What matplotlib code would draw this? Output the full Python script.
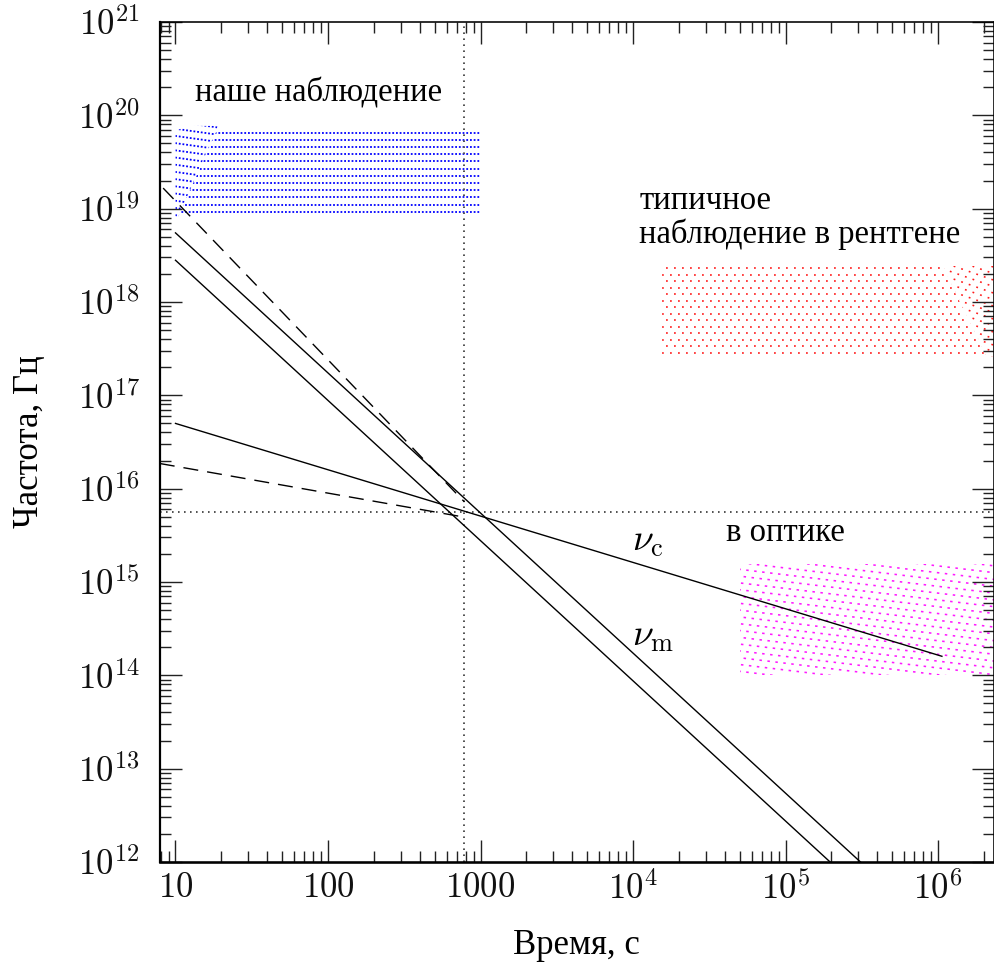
import numpy as np
import matplotlib
matplotlib.use("Agg")
import matplotlib.pyplot as plt
from matplotlib.patches import Polygon
from matplotlib.ticker import FixedLocator, FuncFormatter, LogLocator, NullFormatter

plt.rcParams["mathtext.fontset"] = "cm"
plt.rcParams["font.family"] = ["Liberation Serif", "DejaVu Serif"]
plt.rcParams["lines.scale_dashes"] = False

# ---- data -------------------------------------------------------------
t_range = [7.89, 2.31e6]          # time, s
nu_range = [1e12, 1e21]           # frequency, Hz

nu_c_t = [10, 1.06e6]
nu_c = [5.0e16, 1.6e14]

nu_m_hi_t = [10, 3.1e5]
nu_m_hi = [5.5e18, 1e12]
nu_m_lo_t = [10, 1.96e5]
nu_m_lo = [2.8e18, 1e12]

dash_steep_t = [8.3, 785]
dash_steep = [1.66e19, 7.2e15]
dash_flat_t = [7.89, 785]
dash_flat = [1.86e16, 4.95e15]

t_mark = 785          # vertical dotted line
nu_optical = 5.56e15  # horizontal dotted line

# observation windows (polygons in t, nu)
ours_flat_t = [10.4, 1000, 1000, 18.6]
ours_flat_nu = [8.1e18, 8.1e18, 6.9e19, 6.9e19]
ours_tilt_t = [10, 10, 12.8, 19.0, 10.4]
ours_tilt_nu = [8.1e18, 6.9e19, 7.7e19, 7.7e19, 8.1e18]

xray_flat_t = [1.55e4, 1.07e6, 2.08e6, 1.55e4]
xray_flat_nu = [2.4e18, 2.4e18, 2.57e17, 2.57e17]
xray_tilt_t = [1.07e6, 2.31e6, 2.31e6, 2.08e6]
xray_tilt_nu = [2.4e18, 2.4e18, 2.57e17, 2.57e17]

opt_t = [5.0e4, 2.31e6, 2.31e6, 5.0e4]
opt_nu = [1.0e14, 1.0e14, 1.55e15, 1.55e15]

x_major = [10, 100, 1000, 1e4, 1e5, 1e6]
x_labels = ["$10$", "$100$", "$1000$", "$10^4$", "$10^5$", "$10^6$"]
y_major = [10.0 ** k for k in range(12, 22)]
y_labels = ["$10^{%d}$" % k for k in range(12, 22)]

# ---- figure -----------------------------------------------------------
DPI = 100
PX = 72.0 / DPI  # points per pixel
fig = plt.figure(figsize=(9.95, 9.68), dpi=DPI)
ax = fig.add_axes([0.1606, 0.1095, 0.8379, 0.8678])
ax.set_xscale("log")
ax.set_yscale("log")
ax.set_xlim(*t_range)
ax.set_ylim(*nu_range)


def hatch(xs, ys, color, spacing, slope, on, off, lw, cycle=2):
    """Fill a polygon with rows of short dashes (style given in pixels)."""
    poly = Polygon(np.column_stack([xs, ys]), closed=True, facecolor="none",
                   edgecolor="none", transform=ax.transData)
    ax.add_patch(poly)
    pts = ax.transData.transform(np.column_stack([xs, ys]))
    x0, x1 = pts[:, 0].min() - 4, pts[:, 0].max() + 4
    y0, y1 = pts[:, 1].min(), pts[:, 1].max()
    span = abs(slope) * (x1 - x0)
    inv = ax.transData.inverted()
    period = on + off
    for k, c in enumerate(np.arange(y1 - spacing * 0.3, y0 - span - spacing, -spacing)):
        start = c + span if slope < 0 else c
        seg = np.array([[x0, start], [x1, start + slope * (x1 - x0)]])
        d = inv.transform(seg)
        off0 = ((k % cycle) * period / cycle) * PX
        ln, = ax.plot(d[:, 0], d[:, 1], color=color, lw=lw * PX,
                      linestyle=(off0, (on * PX, off * PX)),
                      solid_capstyle="butt", dash_capstyle="butt", zorder=1)
        ln.set_clip_path(poly)


hatch(ours_flat_t, ours_flat_nu, "#0000ff", 7.2, 0.0, 1.8, 1.9, 1.8, cycle=1)
hatch(ours_tilt_t, ours_tilt_nu, "#0000ff", 7.2, -0.14, 1.8, 1.9, 1.8, cycle=1)
hatch(xray_flat_t, xray_flat_nu, "#ff1a1a", 6.5, 0.0, 1.8, 6.2, 1.6, cycle=2)
hatch(xray_tilt_t, xray_tilt_nu, "#ff1a1a", 6.5, -0.35, 1.8, 6.2, 1.6, cycle=2)
hatch(opt_t, opt_nu, "#ff1aff", 6.8, -0.12, 2.5, 5.5, 1.6, cycle=3)

# model lines
ax.plot(nu_c_t, nu_c, color="black", lw=1.0, zorder=3)
ax.plot(nu_m_hi_t, nu_m_hi, color="black", lw=1.0, zorder=3)
ax.plot(nu_m_lo_t, nu_m_lo, color="black", lw=1.0, zorder=3)
ax.plot(dash_steep_t, dash_steep, color="black", lw=1.0, zorder=3,
        linestyle=(0, (15 * PX, 9 * PX)))
ax.plot(dash_flat_t, dash_flat, color="black", lw=1.0, zorder=3,
        linestyle=(0, (15 * PX, 9 * PX)))

# reference dotted lines
dot_style = dict(color="#555555", lw=2.0 * PX, linestyle=(0, (1.6 * PX, 4.4 * PX)), zorder=2)
ax.axvline(t_mark, **dot_style)
ax.axhline(nu_optical, **dot_style)

# ticks
ax.xaxis.set_major_locator(FixedLocator(x_major))
ax.xaxis.set_major_formatter(FuncFormatter(
    lambda v, p: x_labels[int(np.argmin([abs(np.log10(m) - np.log10(v)) for m in x_major]))]))
ax.yaxis.set_major_locator(FixedLocator(y_major))
ax.yaxis.set_major_formatter(FuncFormatter(lambda v, p: y_labels[int(round(np.log10(v))) - 12]))
for axis in (ax.xaxis, ax.yaxis):
    axis.set_minor_locator(LogLocator(base=10, subs=np.arange(2, 10), numticks=100))
    axis.set_minor_formatter(NullFormatter())
ax.tick_params(which="both", direction="in", top=True, right=True, colors="#222222",
               labelcolor="#111111")
ax.tick_params(which="major", length=22 * PX, width=1.4 * PX)
ax.tick_params(which="minor", length=11 * PX, width=1.4 * PX)
ax.tick_params(axis="x", which="major", labelsize=25, pad=10 * PX)
ax.tick_params(axis="y", which="major", labelsize=25, pad=20 * PX)
for s in ax.spines.values():
    s.set_linewidth(1.6 * PX)
ax.spines["bottom"].set_linewidth(2.6 * PX)
ax.spines["left"].set_linewidth(2.2 * PX)

# axis labels
ax.set_xlabel("Время, с", fontsize=25, labelpad=22 * PX)
ax.set_ylabel("Частота, Гц", fontsize=25, labelpad=32 * PX)

# annotations
ax.text(13.4, 1.74e20, "наше наблюдение", fontsize=23.5, ha="left", va="center")
ax.text(1.1e4, 7.9e18, "типичное\nнаблюдение в рентгене", fontsize=23.5, ha="left",
        va="center", linespacing=1.1)
ax.text(1.0e5, 3.4e15, "в оптике", fontsize=23.5, ha="center", va="center")
ax.text(9.8e3, 2.7e15, r"$\nu_{\rm c}$", fontsize=27, ha="left", va="center")
ax.text(9.8e3, 2.6e14, r"$\nu_{\rm m}$", fontsize=27, ha="left", va="center")

fig.savefig("out.png", dpi=DPI)
